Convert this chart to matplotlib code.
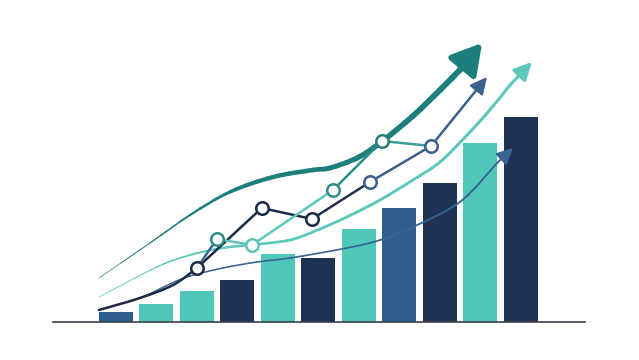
import numpy as np
import matplotlib.pyplot as plt
from matplotlib.collections import LineCollection
from matplotlib.path import Path

# bars (index, value)
bar_x = np.arange(1, 12)
bar_values = [5, 9, 15.5, 21, 34, 32, 46.5, 57, 69.5, 89.5, 102.5]
bar_colors = ['#2d5e8c', '#4fc7b9', '#4fc7b9', '#1e3254', '#4fc7b9', '#1e3254',
              '#4fc7b9', '#2d5e8c', '#1e3254', '#4fc7b9', '#1e3254']

# dark line with markers
dark_lead_x = [0.58, 1.59, 2.41, 3.0]
dark_lead_y = [6, 12, 18.5, 27]
dark_x = [3.0, 4.60, 5.84, 7.27, 8.78]
dark_y = [27, 57, 51.5, 70, 88]
dark_tip = (10.16, 122.5)

# teal line with markers
teal_x = [3.0, 3.49, 4.36, 6.36, 7.57, 8.78]
teal_y = [27, 41.5, 38.5, 66, 90.5, 88]

# thick teal trend
trend_x = [0.58, 1.84, 2.83, 3.81, 4.88, 5.86, 6.28, 6.95, 7.52, 8.33, 9.0, 9.49]
trend_y = [22, 39.5, 53.5, 65, 72.5, 76, 77, 82, 89.5, 103, 116, 126]
trend_tip = (10.04, 139.5)

# light teal trend
light_x = [0.58, 2.01, 2.83, 3.64, 4.56, 5.30, 5.86, 6.70, 7.52, 8.33, 9.0, 9.67, 10.23, 10.73]
light_y = [12.5, 27.5, 33.5, 37, 39, 41, 45, 52.5, 61, 71, 80, 93.5, 106, 118.5]
light_tip = (11.27, 130)

# thin steel trend
steel_x = [0.58, 1.59, 2.33, 2.83, 3.64, 4.48, 5.30, 6.70, 7.52, 8.33, 9.49, 10.41]
steel_y = [6, 12, 19, 23, 27, 30, 32, 37, 41, 47.5, 60, 79.5]
steel_tip = (10.80, 87)

fig = plt.figure(figsize=(6.39, 3.6), dpi=100)
ax = fig.add_axes([0, 0, 1, 1])
ax.set_xlim(-1.864, 13.914)
ax.set_ylim(-19, 161)
ax.axis('off')

ax.bar(bar_x, bar_values, width=0.84, color=bar_colors, zorder=2)
ax.axhline(0, xmin=53 / 639, xmax=585 / 639, color='#3c3f4a', lw=1.2, zorder=3)


def smooth(x, y):
    # bezier through the points (drawing only), flattened by matplotlib
    p = ax.transData.transform(np.column_stack([x, y]))
    verts = [p[0]]
    codes = [Path.MOVETO]
    n = len(p)
    for i in range(n - 1):
        p0 = p[max(i - 1, 0)]
        p3 = p[min(i + 2, n - 1)]
        c1 = p[i] + (p[i + 1] - p0) / 6
        c2 = p[i + 1] - (p3 - p[i]) / 6
        verts += [c1, c2, p[i + 1]]
        codes += [Path.CURVE4] * 3
    poly = Path(verts, codes).to_polygons(closed_only=False)[0]
    return ax.transData.inverted().transform(poly)


def tapered(x, y, widths_at, color, z=4):
    pts = smooth(x, y)
    segs = np.stack([pts[:-1], pts[1:]], axis=1)
    t = np.linspace(0, 1, len(segs))
    widths = np.interp(t, widths_at[0], widths_at[1])
    lc = LineCollection(segs, linewidths=widths, colors=color,
                        capstyle='round', joinstyle='round', zorder=z)
    ax.add_collection(lc)


def arrow(start, tip, color, lw, hl, hw, scale):
    ax.annotate('', xy=tip, xytext=start, zorder=5,
                arrowprops=dict(arrowstyle='-|>,head_length=%s,head_width=%s' % (hl, hw),
                                mutation_scale=scale, color=color, lw=lw,
                                shrinkA=0, shrinkB=0))


# trend curves
tapered(trend_x, trend_y, ([0, 0.3, 1], [0.5, 3.0, 4.3]), '#1d7f7b')
arrow((trend_x[-1], trend_y[-1]), trend_tip, '#1d7f7b', 4.3, 0.9, 0.52, 20)

tapered(light_x, light_y, ([0, 0.3, 1], [0.5, 1.9, 2.2]), '#5bc8bb')
arrow((light_x[-1], light_y[-1]), light_tip, '#5bc8bb', 2.2, 0.9, 0.45, 12)

tapered(steel_x, steel_y, ([0, 1], [1.0, 1.4]), '#3a6494')
arrow((steel_x[-1], steel_y[-1]), steel_tip, '#3a6494', 1.4, 0.9, 0.45, 11)

# dark marker line
lead = smooth(dark_lead_x, dark_lead_y)
ax.plot(lead[:, 0], lead[:, 1], color='#1b2a45', lw=1.8, zorder=4, solid_capstyle='round')
dark_seg_colors = ['#1b2a45', '#1b2a45', '#22304f', '#3d5f8c']
for i, c in enumerate(dark_seg_colors):
    ax.plot(dark_x[i:i + 2], dark_y[i:i + 2], color=c, lw=1.8, zorder=4,
            solid_capstyle='round')
arrow((dark_x[-1], dark_y[-1]), dark_tip, '#3d5f8c', 1.8, 0.9, 0.45, 11)

# teal marker line
teal_seg_colors = ['#3a6a96', '#5ec4b8', '#5ec8bb', '#2c8f8a', '#3c9c98']
for i, c in enumerate(teal_seg_colors):
    ax.plot(teal_x[i:i + 2], teal_y[i:i + 2], color=c, lw=1.8, zorder=4,
            solid_capstyle='round')

# markers
dark_edges = ['#1b2a45', '#1b2a45', '#1b2a45', '#3d5f8c', '#3d5f8c']
for x, y, c in zip(dark_x, dark_y, dark_edges):
    ax.plot(x, y, 'o', ms=9, mfc='white', mec=c, mew=1.8, zorder=6)
teal_edges = ['#2e8a85', '#5ec4b8', '#2c8f8a', '#247f7b']
for x, y, c in zip(teal_x[1:5], teal_y[1:5], teal_edges):
    ax.plot(x, y, 'o', ms=9, mfc='white', mec=c, mew=1.8, zorder=6)

fig.savefig('out.png', dpi=100)
